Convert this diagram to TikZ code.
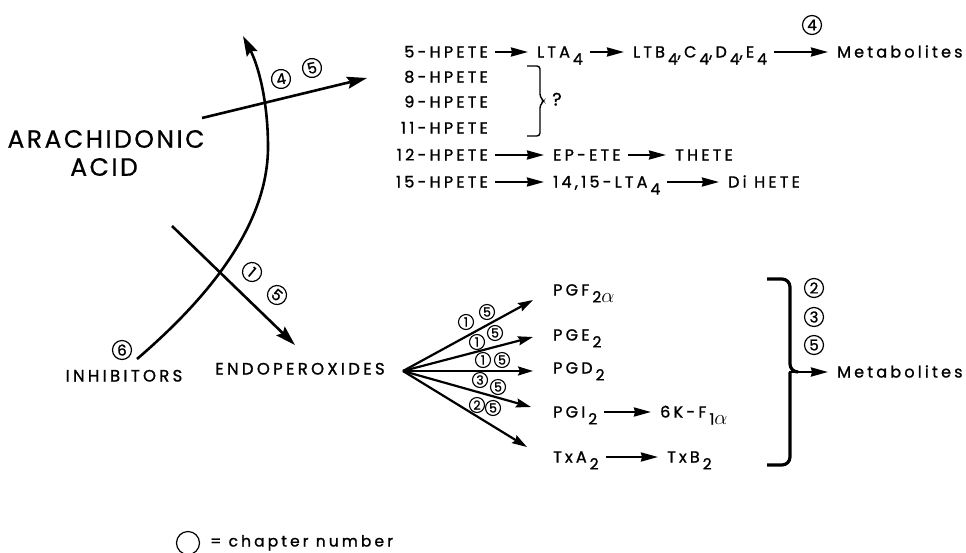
\documentclass[tikz,border=0pt]{standalone}
\usepackage{fontspec}
\setmainfont{Poppins}
\newfontfamily\labfont[LetterSpace=20, FakeBold=1.2]{Poppins}
\newfontfamily\bigfont[LetterSpace=10, FakeBold=0.6]{Poppins}
\newfontfamily\numfont[FakeBold=1.0]{Poppins}
\usetikzlibrary{arrows.meta}
% lowered index digit, as in LTA4
\newcommand{\sbs}[1]{\kern3pt\raisebox{-7pt}{\fontsize{15.5}{15.5}\selectfont #1}}
\newcommand{\alp}{{\fontsize{22}{22}\selectfont\ensuremath{\alpha}}}
\tikzset{
  lbl/.style={inner sep=0pt, text height=11pt, text depth=0pt,
              font=\labfont\fontsize{16}{16}\selectfont},
  biglbl/.style={inner sep=0pt, font=\bigfont\fontsize{25}{25}\selectfont},
  cnum/.style={circle, draw, line width=1.2pt, inner sep=0pt, minimum size=19pt,
               font=\numfont\fontsize{15}{15}\selectfont},
  cnums/.style={circle, draw, line width=1.1pt, inner sep=0pt, minimum size=15pt,
               font=\numfont\fontsize{12.5}{12.5}\selectfont},
  bigarrow/.style={line width=2.6pt, -{Stealth[length=20pt, width=12pt, inset=3pt]}},
  fanarrow/.style={line width=2.2pt, -{Stealth[length=15pt, width=9pt, inset=2pt]}},
  tarrow/.style={line width=2.2pt, -{Stealth[length=17pt, width=9pt, inset=1pt]},
                 shorten <=7pt, shorten >=9pt},
  brk/.style={line width=3.2pt, rounded corners=8pt},
}
\begin{document}
\begin{tikzpicture}[x=1pt, y=-1pt]
\fill[white] (0,0) rectangle (966,552);
\useasboundingbox (0,0) rectangle (966,552);

% ---- left labels ----
\node[biglbl] (aa) at (106,139) {ARACHIDONIC};
\node[biglbl] (acid) at (104,167) {ACID};
\node[lbl, anchor=center, font=\labfont\fontsize{16.5}{16.5}\selectfont] (inh) at (124,376) {INHIBITORS};
\node[cnum] (c6) at (122,350) {6};
\node[lbl, anchor=center, font=\labfont\fontsize{16.5}{16.5}\selectfont] (endo) at (300,369) {ENDOPEROXIDES};

% ---- lipoxygenase products ----
\node[lbl, anchor=east] (hp5)  at (488,52)  {5-HPETE};
\node[lbl, anchor=east] (hp8)  at (488,77)  {8-HPETE};
\node[lbl, anchor=east] (hp9)  at (488,102) {9-HPETE};
\node[lbl, anchor=east] (hp11) at (488,128) {11-HPETE};
\node[lbl, anchor=east] (hp12) at (488,155) {12-HPETE};
\node[lbl, anchor=east] (hp15) at (488,182) {15-HPETE};

\node[lbl, anchor=west] (lta4) at (537,52) {LTA\sbs{4}};
\node[lbl, anchor=west] (ltb4) at (633,52) {LTB\sbs{4},C\sbs{4},D\sbs{4},E\sbs{4}};
\node[lbl, anchor=west] (met1) at (837,52) {Metabolites};
\node[cnum] (c4top) at (812,25) {4};

\node[lbl, anchor=west] (epete) at (553,155) {EP-ETE};
\node[lbl, anchor=west] (thete) at (675,155) {THETE};
\node[lbl, anchor=west] (lta15) at (553,182) {14,15-LTA\sbs{4}};
\node[lbl, anchor=west] (dihete) at (728,182) {Di HETE};

\draw[tarrow] (hp5) -- (lta4);
\draw[tarrow] (lta4) -- (ltb4);
\draw[tarrow] (ltb4) -- (met1);
\draw[tarrow] (hp12) -- (epete);
\draw[tarrow] (epete) -- (thete);
\draw[tarrow] (hp15) -- (lta15);
\draw[tarrow] (lta15) -- (dihete);

% brace after 8-, 9-, 11-HPETE
\draw[line width=1.4pt, rounded corners=3pt]
  (527,66) -- (540,66) -- (540,97) -- (544,101) -- (540,105) -- (540,136) -- (527,136);
\node[lbl, anchor=center, font=\numfont\fontsize{18}{18}\selectfont] (q) at (557,100) {?};

% ---- main pathways ----
\coordinate (loxS) at (202,118);
\coordinate (loxT) at (367,78);
\draw[bigarrow] (loxS) -- (loxT);
\node[cnum, rotate=12] (c4) at (281,79) {4};
\node[cnum, rotate=12] (c5a) at (312,68) {5};

\coordinate (inhS) at (137,359);
\coordinate (inhT) at (243,36);
\draw[bigarrow] (inhS) .. controls (200,305) and (268,230) .. (268,147)
                       .. controls (268,100) and (258,65) .. (inhT);

\coordinate (coxS) at (172,226);
\coordinate (coxT) at (295,345);
\draw[bigarrow] (coxS) -- (coxT);
\node[cnum, rotate=-40] (c1a) at (252,272) {1};
\node[cnum, rotate=-40] (c5b) at (277,295) {5};

% ---- prostanoids ----
\coordinate (fan) at (403,371);
\coordinate (fA) at (533,300);
\coordinate (fB) at (533,337);
\coordinate (fC) at (533,371);
\coordinate (fD) at (531,407);
\coordinate (fE) at (527,447);
\foreach \t in {fA,fB,fC,fD,fE} \draw[fanarrow] (fan) -- (\t);

\node[cnums] at (466,322) {1};
\node[cnums] at (487,312) {5};
\node[cnums] at (477,342) {1};
\node[cnums] at (495,333) {5};
\node[cnums] at (483,360) {1};
\node[cnums] at (502,360) {5};
\node[cnums] at (480,380) {3};
\node[cnums] at (498,387) {5};
\node[cnums] at (477,405) {2};
\node[cnums] at (493,408) {5};

\node[lbl, anchor=west] (pgf) at (553,290) {PGF\sbs{2\alp}};
\node[lbl, anchor=west] (pge) at (553,335) {PGE\sbs{2}};
\node[lbl, anchor=west] (pgd) at (553,368) {PGD\sbs{2}};
\node[lbl, anchor=west] (pgi) at (553,412) {PGI\sbs{2}};
\node[lbl, anchor=west] (kf)  at (660,412) {6K-F\sbs{1\alp}};
\node[lbl, anchor=west] (txa) at (553,457) {TxA\sbs{2}};
\node[lbl, anchor=west] (txb) at (667,457) {TxB\sbs{2}};
\draw[tarrow] (pgi) -- (kf);
\draw[tarrow] (txa) -- (txb);

% large brace and final metabolites
\draw[brk] (767,279) -- (790,279) -- (790,372) -- (798,372);
\draw[brk] (767,465) -- (790,465) -- (790,372);
\node[lbl, anchor=west] (met2) at (837,372) {Metabolites};
\coordinate (brkM) at (789,372);
\draw[line width=2.4pt, -{Stealth[length=17pt, width=9pt, inset=1pt]}, shorten >=9pt]
  (brkM) -- (met2.west |- brkM);
\node[cnum] at (814,288) {2};
\node[cnum] at (814,317) {3};
\node[cnum] at (814,345) {5};

% legend
\node[circle, draw, line width=1.2pt, minimum size=23pt, inner sep=0pt] (lg) at (188,543) {};
\node[lbl, anchor=west, font=\labfont\fontsize{15.5}{15.5}\selectfont] (lgt) at (210,541) {= chapter number};
\end{tikzpicture}
\end{document}
